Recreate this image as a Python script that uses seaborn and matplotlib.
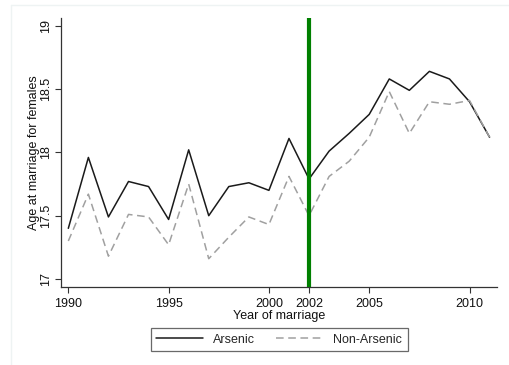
import matplotlib
matplotlib.use("Agg")
import matplotlib.pyplot as plt
import matplotlib.lines as mlines
import seaborn as sns
import pandas as pd

years = list(range(1990, 2012))
arsenic = [17.40, 17.96, 17.49, 17.77, 17.73, 17.47, 18.02, 17.50, 17.73, 17.76, 17.70,
           18.11, 17.79, 18.01, 18.15, 18.30, 18.58, 18.49, 18.64, 18.58, 18.40, 18.12]
non_arsenic = [17.30, 17.67, 17.18, 17.51, 17.49, 17.27, 17.75, 17.16, 17.33, 17.49, 17.43,
               17.81, 17.50, 17.81, 17.93, 18.12, 18.48, 18.15, 18.40, 18.38, 18.41, 18.12]
x_ticks = [1990, 1995, 2000, 2002, 2005, 2010]
y_ticks = [17, 17.5, 18, 18.5, 19]
y_tick_labels = ["17", "17.5", "18", "18.5", "19"]
cutoff_year = 2002
series_names = ["Arsenic", "Non-Arsenic"]

df = pd.DataFrame({
    "year": years * 2,
    "age": arsenic + non_arsenic,
    "group": [series_names[0]] * len(years) + [series_names[1]] * len(years),
})

sns.set_style("white")
plt.rcParams["font.family"] = ["Liberation Sans", "DejaVu Sans"]
FS = 9

fig = plt.figure(figsize=(5.09, 3.65), dpi=100)
ax = fig.add_axes([60.7 / 509, 1 - 286.7 / 365, (497 - 60.7) / 509, (286.7 - 18.3) / 365])

palette = {series_names[0]: "#1a1a1a", series_names[1]: "#a0a0a0"}
sns.lineplot(data=df, x="year", y="age", hue="group", style="group",
             palette=palette, dashes={series_names[0]: "", series_names[1]: (5, 3)},
             linewidth=1.1, ax=ax, legend=False)

ax.axvline(cutoff_year, color="#008000", linewidth=3, zorder=5)

ax.set_xlim(1989.62, 2011.37)
ax.set_ylim(16.939, 19.059)
ax.set_xticks(x_ticks)
ax.set_xticklabels([str(t) for t in x_ticks], fontsize=FS, color="#111111")
ax.set_yticks(y_ticks)
ax.set_yticklabels(y_tick_labels, fontsize=FS, rotation=90, va="center", color="#111111")
ax.tick_params(axis="both", direction="out", length=4, width=0.8, color="#333333")
ax.tick_params(axis="x", bottom=True, pad=4)
ax.tick_params(axis="y", left=True, pad=2)

for side in ["top", "right"]:
    ax.spines[side].set_visible(False)
for side in ["left", "bottom"]:
    ax.spines[side].set_color("#333333")
    ax.spines[side].set_linewidth(0.9)

ax.set_xlabel("Year of marriage", fontsize=FS, labelpad=0, color="#111111")
ax.set_ylabel("Age at marriage for females", fontsize=FS, labelpad=0, color="#111111")

handles = [
    mlines.Line2D([], [], color=palette[series_names[0]], linewidth=1.1),
    mlines.Line2D([], [], color=palette[series_names[1]], linewidth=1.1, dashes=(5, 3)),
]
leg = fig.legend(handles, series_names, loc="center", ncol=2,
                 bbox_to_anchor=(279.2 / 509, 1 - 339.7 / 365),
                 fontsize=FS, frameon=True, fancybox=False, handlelength=3.75,
                 columnspacing=1.7, handletextpad=0.8, borderpad=0.45,
                 borderaxespad=0)
leg.get_frame().set_edgecolor("#444444")
leg.get_frame().set_linewidth(0.9)

# faint outer frame lines
fig.add_artist(mlines.Line2D([11 / 509, 1], [1 - 5 / 365, 1 - 5 / 365], color="#eef3f3", linewidth=1))
fig.add_artist(mlines.Line2D([11 / 509, 11 / 509], [0, 1 - 5 / 365], color="#eef3f3", linewidth=1))

fig.savefig("out.png", dpi=100)
